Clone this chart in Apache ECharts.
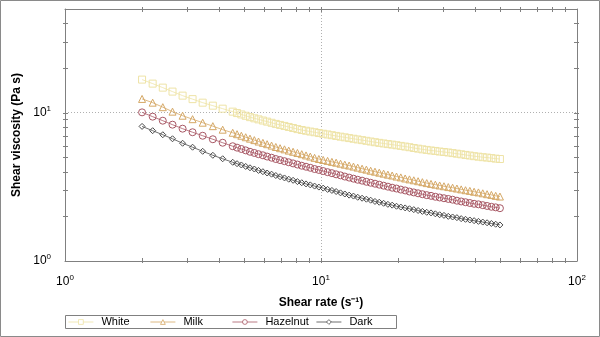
<!DOCTYPE html>
<html><head><meta charset="utf-8">
<script src="https://cdn.jsdelivr.net/npm/echarts@6/dist/echarts.min.js"></script>
<style>html,body{margin:0;padding:0;background:#fff}#c{width:600px;height:337px}</style>
</head><body><div id="c"></div>
<script>
const shearRate = [2.0, 2.2, 2.41, 2.63, 2.88, 3.15, 3.45, 3.78, 4.13, 4.52,
  4.70, 4.885, 5.08, 5.28, 5.49, 5.70, 5.93, 6.16, 6.41, 6.66, 6.92, 7.20, 7.48, 7.78, 8.09, 8.41, 8.74, 9.08, 9.44, 9.81,
  10.20, 10.61, 11.03, 11.46, 11.92, 12.39, 12.88, 13.39, 13.91, 14.47, 15.04, 15.63, 16.25, 16.89, 17.56, 18.25, 18.97, 19.72,
  20.50, 21.32, 22.16, 23.04, 23.95, 24.89, 25.88, 26.90, 27.97, 29.07, 30.22, 31.42, 32.66, 33.95, 35.29, 36.69, 38.14, 39.64,
  41.21, 42.84, 44.54, 46.30, 48.13, 50.0];
const white = [16.71,15.70,14.75,13.87,13.03,12.34,11.68,11.15,10.64,10.16,
  9.94,9.73,9.53,9.33, 9.16,9.01,8.85,8.70,8.55, 8.40,8.27,8.14,8.01,7.88,7.75,
  7.64,7.55,7.46,7.38,7.29, 7.21,7.13,7.05,6.97,6.89,6.82,6.74, 6.67,6.60,6.53,6.46,6.39,6.32,
  6.26,6.20,6.14,6.09,6.03, 5.97,5.91,5.85,5.78,5.72,5.66, 5.61,5.56,5.52,5.47,5.43,5.39,
  5.34,5.29,5.24,5.19,5.14,5.09, 5.05,5.01,4.98,4.94,4.90,4.87];
const milk = [12.38,11.68,10.89,10.16,9.54,9.04,8.56,8.11,7.68,7.32,
  7.16,6.99,6.83,6.68, 6.53,6.39,6.26,6.13,6.00, 5.87,5.76,5.66,5.55,5.45,5.35,
  5.25,5.15,5.06,4.96,4.87, 4.80,4.73,4.66,4.60,4.53,4.46,4.40, 4.33,4.26,4.19,4.13,4.06,4.00,
  3.94,3.88,3.82,3.77,3.71, 3.66,3.60,3.55,3.50,3.45,3.40, 3.35,3.31,3.27,3.23,3.19,3.15,
  3.12,3.08,3.04,3.00,2.97,2.93, 2.90,2.86,2.82,2.79,2.75,2.72];
const hazelnut = [10.05,9.40,8.83,8.30,7.80,7.38,6.99,6.62,6.27,5.94,
  5.81,5.69,5.57,5.45, 5.35,5.25,5.16,5.06,4.97, 4.87,4.79,4.71,4.63,4.55,4.47,
  4.39,4.32,4.25,4.17,4.11, 4.04,3.97,3.91,3.84,3.78,3.71,3.65, 3.59,3.53,3.48,3.42,3.37,3.32,
  3.27,3.22,3.17,3.12,3.08, 3.03,2.99,2.94,2.90,2.86,2.82, 2.78,2.75,2.71,2.68,2.65,2.62,
  2.59,2.55,2.52,2.49,2.46,2.43, 2.41,2.38,2.35,2.32,2.30,2.27];
const dark = [8.08,7.56,7.10,6.67,6.22,5.85,5.49,5.16,4.89,4.63,
  4.53,4.44,4.34,4.25, 4.17,4.08,4.00,3.92,3.85, 3.77,3.70,3.63,3.56,3.50,3.43,
  3.37,3.31,3.26,3.20,3.15, 3.10,3.04,2.99,2.94,2.88,2.83,2.78, 2.74,2.69,2.65,2.61,2.57,2.52,
  2.49,2.45,2.41,2.38,2.34, 2.31,2.28,2.25,2.22,2.19,2.16, 2.13,2.11,2.08,2.05,2.03,2.00,
  1.98,1.96,1.93,1.91,1.89,1.87, 1.85,1.83,1.81,1.79,1.77,1.75];
const seriesNames = ['White', 'Milk', 'Hazelnut', 'Dark'];
const xTicks = [1, 10, 100];
const yTicks = [1, 10];
const xMinorTicks = [2,3,4,5,6,7,8,9,20,30,40,50,60,70,80,90];
const yMinorTicks = [2,3,4,5,6,7,8,9,20,30,40];

const font = '"Liberation Sans", Arial, sans-serif';
const colors = ['#eee3a6', '#d5a866', '#a85865', '#4a4a4a'];
const symbols = ['rect', 'triangle', 'circle', 'diamond'];
const sizes = [7, 7, 7, 6];
const values = [white, milk, hazelnut, dark];
const axisColor = '#808080';

// legend layout (positions only)
const legendLeft = [68, 150, 232, 316];
const legendBox = {x: 65.5, y: 315.5, width: 331, height: 13};

function powLabel(v) {
  const e = Math.log10(v), r = Math.round(e);
  if (Math.abs(e - r) > 1e-6) return '';
  return '{b|10}{s|' + r + '}';
}
const rich = {
  b: {fontSize: 12, fontFamily: font, color: '#000', lineHeight: 16},
  s: {fontSize: 8, fontFamily: font, color: '#000', lineHeight: 8, verticalAlign: 'top'}
};

function tickSeries(list, isX) {
  return {
    type: 'custom', xAxisIndex: 0, yAxisIndex: 0, silent: true, z: 5,
    data: list.map(v => isX ? [v, 10] : [10, v]),
    renderItem: function (params, api) {
      const cs = params.coordSys;
      const st = {stroke: axisColor, lineWidth: 1};
      if (isX) {
        const x = Math.round(api.coord([api.value(0), 10])[0]) + 0.5;
        const yb = cs.y + cs.height, yt = cs.y;
        return {type: 'group', children: [
          {type: 'line', shape: {x1: x, y1: yb - 3, x2: x, y2: yb + 2}, style: st},
          {type: 'line', shape: {x1: x, y1: yt - 2, x2: x, y2: yt + 3}, style: st}
        ]};
      } else {
        const y = Math.round(api.coord([10, api.value(1)])[1]) + 0.5;
        const xl = cs.x, xr = cs.x + cs.width;
        return {type: 'group', children: [
          {type: 'line', shape: {x1: xl - 2, y1: y, x2: xl + 3, y2: y}, style: st},
          {type: 'line', shape: {x1: xr - 3, y1: y, x2: xr + 2, y2: y}, style: st}
        ]};
      }
    }
  };
}

const lineSeries = seriesNames.map((n, i) => ({
  name: n, type: 'line', xAxisIndex: 0, yAxisIndex: 0,
  data: shearRate.map((x, j) => [x, values[i][j]]),
  symbol: symbols[i], symbolSize: sizes[i], showSymbol: true,
  lineStyle: {color: colors[i], width: 0.8},
  itemStyle: {color: 'rgba(255,255,255,0)', borderColor: colors[i], borderWidth: 1},
  z: 3
}));

const legends = seriesNames.map((n, i) => ({
  left: legendLeft[i], top: 316, itemWidth: 25, itemHeight: 6, padding: 0,
  itemStyle: {color: 'rgba(255,255,255,1)', borderWidth: 0.8},
  lineStyle: {width: 0.8},
  textStyle: {fontFamily: font, fontSize: 11, color: '#000', lineHeight: 12, padding: [0, 0, 0, 3]},
  data: [n]
}));

const chart = echarts.init(document.getElementById('c'), null, {renderer: 'canvas'});
chart.setOption({
  animation: false,
  backgroundColor: '#fff',
  graphic: [
    {type: 'rect', silent: true, shape: {x: 0.5, y: 0.5, width: 599, height: 336},
      style: {fill: 'none', stroke: '#8a8a8a', lineWidth: 1}},
    {type: 'rect', silent: true, shape: legendBox,
      style: {fill: 'none', stroke: axisColor, lineWidth: 1}}
  ],
  grid: {left: 65, right: 23, top: 9, bottom: 76},
  legend: legends,
  xAxis: [{
    type: 'log', logBase: 10, min: xTicks[0], max: xTicks[xTicks.length - 1], position: 'bottom',
    axisLine: {lineStyle: {color: axisColor, width: 1}}, axisTick: {show: false},
    axisLabel: {formatter: powLabel, rich: rich, margin: 13},
    splitLine: {show: true, lineStyle: {type: [1, 2], color: '#b0b0b0', width: 1}},
    name: 'Shear rate (s\u207B\u00B9)', nameLocation: 'middle', nameGap: 36,
    nameTextStyle: {fontFamily: font, fontWeight: 'bold', fontSize: 12, color: '#000'}
  }, {
    type: 'log', logBase: 10, min: xTicks[0], max: xTicks[xTicks.length - 1], position: 'top',
    axisLine: {lineStyle: {color: axisColor, width: 1}}, axisTick: {show: false},
    axisLabel: {show: false}, splitLine: {show: false}
  }],
  yAxis: [{
    type: 'log', logBase: 10, min: yTicks[0], max: 50, position: 'left',
    axisLine: {show: true, lineStyle: {color: axisColor, width: 1}}, axisTick: {show: false},
    axisLabel: {formatter: powLabel, rich: rich, margin: 14},
    splitLine: {show: true, lineStyle: {type: [1, 2], color: '#b0b0b0', width: 1}},
    name: 'Shear viscosity (Pa s)', nameLocation: 'middle', nameGap: 42,
    nameTextStyle: {fontFamily: font, fontWeight: 'bold', fontSize: 12, color: '#000'}
  }, {
    type: 'log', logBase: 10, min: yTicks[0], max: 50, position: 'right',
    axisLine: {show: true, lineStyle: {color: axisColor, width: 1}}, axisTick: {show: false},
    axisLabel: {show: false}, splitLine: {show: false}
  }],
  series: lineSeries.concat([tickSeries(xMinorTicks.concat([10]), true), tickSeries(yMinorTicks.concat([10]), false)])
});
</script></body></html>
